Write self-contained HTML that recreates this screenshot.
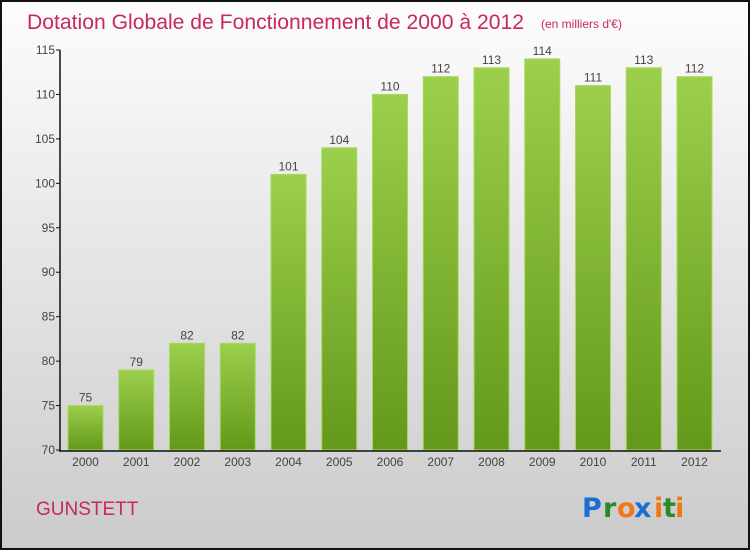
<!DOCTYPE html>
<html><head><meta charset="utf-8"><style>
html,body{margin:0;padding:0;}
body{width:750px;height:550px;overflow:hidden;font-family:"Liberation Sans","DejaVu Sans",sans-serif;}
</style></head><body>
<svg id="chart" width="750" height="550" xmlns="http://www.w3.org/2000/svg">
<defs>
<linearGradient id="bg" x1="0" y1="0" x2="0" y2="1"><stop offset="0" stop-color="#fdfdfd"/><stop offset="1" stop-color="#cbcbcb"/></linearGradient>
<linearGradient id="bar" x1="0" y1="0" x2="0" y2="1"><stop offset="0" stop-color="#9ccf4c"/><stop offset="1" stop-color="#64981a"/></linearGradient>
</defs>
<rect x="1" y="1" width="748" height="548" fill="url(#bg)" stroke="#111" stroke-width="2"/>
<text x="27" y="29" font-size="21" fill="#c8285a" textLength="497" lengthAdjust="spacingAndGlyphs">Dotation Globale de Fonctionnement de 2000 à 2012</text>
<text x="541" y="28" font-size="12" fill="#c8285a">(en milliers d'€)</text>
<g id="grid"></g>
<g id="bars"></g>
<line x1="60" y1="50" x2="60" y2="451" stroke="#111" stroke-width="1.5"/>
<line x1="59" y1="451" x2="721" y2="451" stroke="#111" stroke-width="1.5"/>
<text x="36" y="515" font-size="19" fill="#c8285a">GUNSTETT</text>
<g font-size="27" font-weight="bold" font-family="'DejaVu Sans',sans-serif">
<text x="582" y="517" fill="#1a6fd0">P</text><text x="603" y="517" fill="#2a8a2a">r</text><text x="617" y="517" fill="#f07818">o</text><text x="634" y="517" fill="#1a6fd0">x</text><text x="654" y="517" fill="#f07818">i</text><text x="663" y="517" fill="#2a8a2a">t</text><text x="675" y="517" fill="#f07818">i</text>
</g>
</svg>
<script>
const categories=["2000","2001","2002","2003","2004","2005","2006","2007","2008","2009","2010","2011","2012"];
const values=[75,79,82,82,101,104,110,112,113,114,111,113,112];
const yTicks=[70,75,80,85,90,95,100,105,110,115];
const NS="http://www.w3.org/2000/svg";
const yMin=70,yMax=115,plotTop=50,plotBottom=450;
function y(v){return plotBottom-(v-yMin)/(yMax-yMin)*(plotBottom-plotTop);}
function xc(i){return 85.5+i*50.75;}
const gridG=document.getElementById('grid'),barsG=document.getElementById('bars');
function mk(t,a,p){const e=document.createElementNS(NS,t);for(const k in a)e.setAttribute(k,a[k]);p.appendChild(e);return e;}
yTicks.forEach(t=>{
 const tk=mk('line',{x1:56,x2:60,y1:y(t),y2:y(t),stroke:'#111'},gridG);
 
 
 const l=mk('text',{x:55,y:y(t)+4,'font-size':12,'text-anchor':'end',fill:'#444'},gridG);
 
 
 l.textContent=t;
});
categories.forEach((c,i)=>{
 const v=values[i],w=35;
 const r=mk('rect',{x:xc(i)-w/2,y:y(v),width:w,height:plotBottom-y(v),fill:'url(#bar)',stroke:'#a8d860','stroke-width':1},barsG);
 
 
 const vl=mk('text',{x:xc(i),y:y(v)-4,'font-size':12,'text-anchor':'middle',fill:'#444'},barsG);
 
 
 vl.textContent=v;
 const xl=mk('text',{x:xc(i),y:466,'font-size':12,'text-anchor':'middle',fill:'#444'},barsG);
 
 
 xl.textContent=c;
});
</script>
</body></html>
